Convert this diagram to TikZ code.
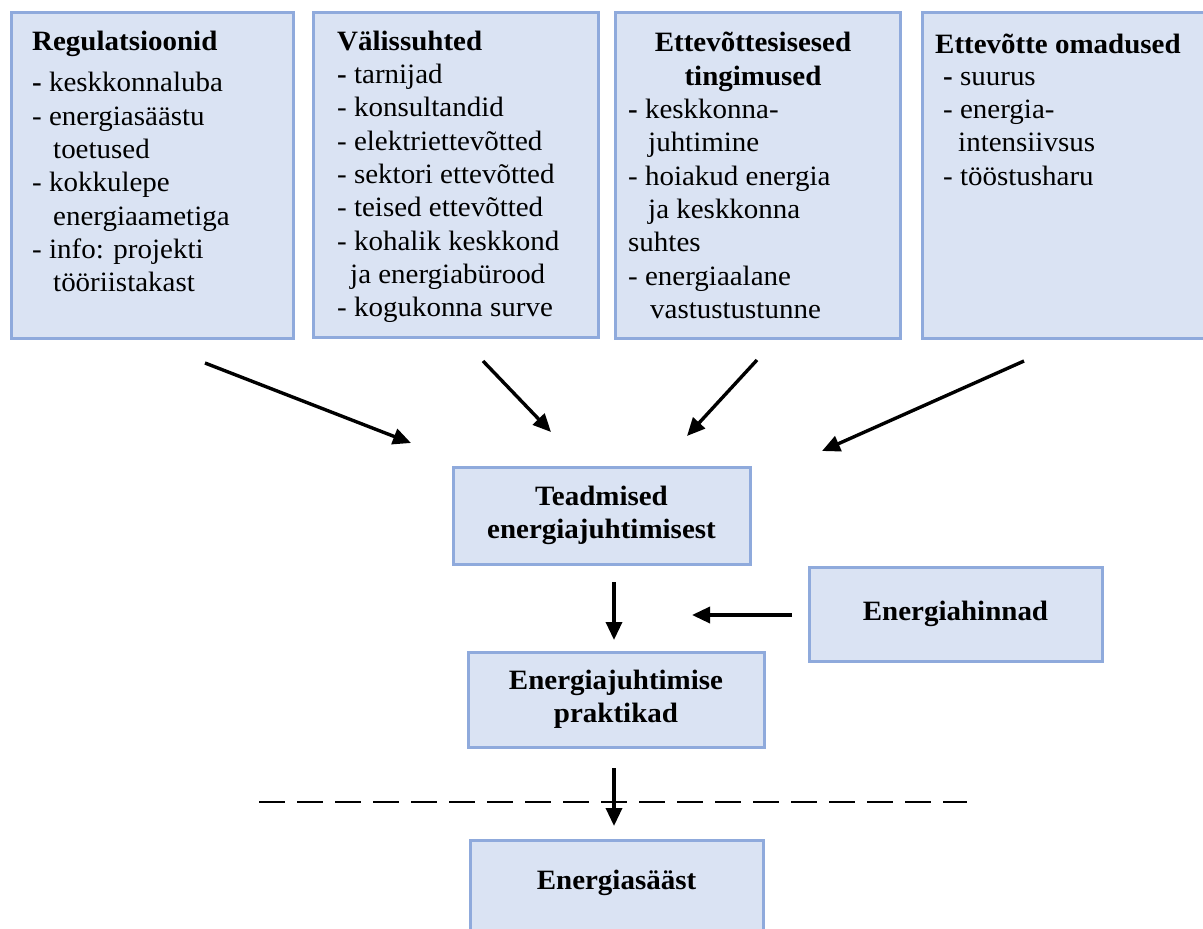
\documentclass[tikz,border=0pt]{standalone}
\usepackage{fontspec}
\setmainfont{Liberation Serif}[FakeStretch=1.035]
\usetikzlibrary{arrows.meta}
\definecolor{boxfill}{HTML}{DAE3F3}
\definecolor{boxline}{HTML}{8FAADC}
\newcommand\fsz{\fontsize{28}{33.3}\selectfont}
\tikzset{
  box/.style={draw=boxline, fill=boxfill, line width=3pt, inner sep=0pt},
  txt/.style={inner sep=0pt, align=left, font=\fsz},
  ctxt/.style={inner sep=0pt, align=center, font=\fsz\bfseries},
  arr/.style={line width=3.4pt, -{Triangle[length=18pt,width=16pt]}},
  dline/.style={line width=2.8pt, dash pattern=on 26pt off 12pt},
}
\begin{document}
\begin{tikzpicture}[x=1pt,y=-1pt]
\useasboundingbox (0,0) rectangle (1203,929);
% top boxes
\node[box, minimum width=282pt, minimum height=326pt] (reg) at (152,175) {};
\node[box, minimum width=285pt, minimum height=325pt] (val) at (455.5,174.5) {};
\node[box, minimum width=285pt, minimum height=326pt] (sis) at (757.5,175) {};
\node[box, minimum width=284pt, minimum height=326pt] (oma) at (1064,175) {};
% box 1 text
\node[txt, anchor=north west] (regh) at (32,26.7) {\strut\textbf{Regulatsioonid}};
\node[txt, anchor=north west] (regi) at (32,68.4) {\strut\textbf{-} keskkonnaluba\\- energiasäästu\\\hspace*{21pt}toetused\\- kokkulepe\\\hspace*{21pt}energiaametiga\\- info: projekti\\\hspace*{21pt}tööriistakast};
% box 2 text
\node[txt, anchor=north west] (valt) at (337,26.7) {\strut\textbf{Välissuhted}\\\textbf{-} tarnijad\\- konsultandid\\- elektriettevõtted\\- sektori ettevõtted\\- teised ettevõtted\\- kohalik keskkond\\\hspace*{13pt}ja energiabürood\\- kogukonna surve};
% box 3 text
\node[ctxt, anchor=north] (sish) at (753,28.4) {\strut Ettevõttesisesed\\tingimused};
\node[txt, anchor=north west] (sisi) at (628,95) {\strut\textbf{-} keskkonna-\\\hspace*{20pt}juhtimine\\- hoiakud energia\\\hspace*{20pt}ja keskkonna\\suhtes\\- energiaalane\\\hspace*{22pt}vastustustunne};
% box 4 text
\node[txt, anchor=north west] (omah) at (935,29.7) {\strut\textbf{Ettevõtte omadused}};
\node[txt, anchor=north west] (omai) at (943,61.7) {\strut\textbf{-} suurus\\- energia-\\\hspace*{15pt}intensiivsus\\- tööstusharu};
% middle boxes
\node[box, ctxt, minimum width=297pt, minimum height=97pt] (tea) at (601.5,515.5) {Teadmised\\energiajuhtimisest};
\node[box, ctxt, minimum width=296pt, minimum height=95pt] (prak) at (616,699.5) {Energiajuhtimise\\praktikad};
\node[box, ctxt, minimum width=293pt, minimum height=94pt] (hind) at (955.5,614) {Energiahinnad};
\node[box, minimum width=293pt, minimum height=92pt] (saast) at (616.5,886) {};
\node[ctxt] (saastt) at (616.5,883) {Energiasääst};
% arrow end points
\coordinate (a1s) at (205,363); \coordinate (a1e) at (411,443);
\coordinate (a2s) at (483,361); \coordinate (a2e) at (551,432);
\coordinate (a3s) at (757,360); \coordinate (a3e) at (687,436);
\coordinate (a4s) at (1024,361); \coordinate (a4e) at (822,451);
\coordinate (a5s) at (614,582); \coordinate (a5e) at (614,640);
\coordinate (a6s) at (792,615); \coordinate (a6e) at (692,615);
\coordinate (a7s) at (614,768); \coordinate (a7e) at (614,826);
\coordinate (d1) at (259,802); \coordinate (d2) at (967,802);
\draw[arr] (a1s) -- (a1e);
\draw[arr] (a2s) -- (a2e);
\draw[arr] (a3s) -- (a3e);
\draw[arr] (a4s) -- (a4e);
\draw[arr] (a5s) -- (a5e);
\draw[arr] (a6s) -- (a6e);
\draw[dline] (d1) -- (d2);
\draw[arr] (a7s) -- (a7e);
\end{tikzpicture}
\end{document}
